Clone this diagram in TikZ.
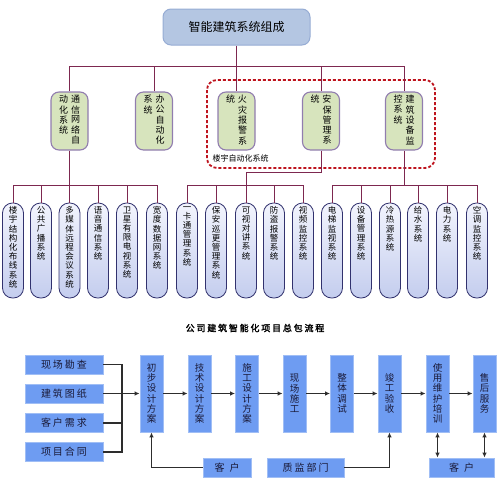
\documentclass[tikz,border=0pt]{standalone}
\usepackage{fontspec}
\setmainfont{Noto Sans CJK SC}
\newfontfamily\widefont[LetterSpace=20]{Noto Sans CJK SC}
\newfontfamily\titlefont[LetterSpace=20,FakeBold=2]{Noto Sans CJK SC}
\usetikzlibrary{arrows.meta}

\definecolor{linkred}{RGB}{125,40,80}
\definecolor{topfill}{RGB}{180,198,226}
\definecolor{topedge}{RGB}{150,172,212}
\definecolor{midgreen}{RGB}{215,228,189}
\definecolor{midedge}{RGB}{145,125,175}
\definecolor{pilltop}{RGB}{242,244,253}
\definecolor{pillbot}{RGB}{196,205,238}
\definecolor{pilledge}{RGB}{50,50,110}
\definecolor{flowblue}{RGB}{110,156,242}
\definecolor{flowedge}{RGB}{160,190,245}
\definecolor{flowtext}{RGB}{25,25,55}
\definecolor{dashred}{RGB}{190,20,30}
\definecolor{arrgray}{RGB}{45,45,45}

\newcommand\vcol[1]{\begin{tabular}[t]{@{}c@{}}#1\end{tabular}}
\newcommand\pilltext[1]{\parbox[c][88pt][t]{14pt}{\centering #1}}

\begin{document}
\begin{tikzpicture}[x=1pt,y=-1pt,
    link/.style={draw=linkred, line width=0.9pt},
    topbox/.style={draw=topedge, fill=topfill, line width=1pt, rounded corners=8pt,
        minimum width=147pt, minimum height=36pt, font=\fontsize{12}{14}\selectfont},
    midbox/.style={draw=midedge, fill=midgreen, line width=1.1pt, rounded corners=8pt,
        minimum width=37pt, minimum height=58pt, inner sep=0pt,
        font=\fontsize{9}{9.4}\selectfont},
    pill/.style={draw=pilledge, line width=0.8pt, top color=pilltop, bottom color=pillbot,
        rounded corners=10pt, minimum width=21pt, minimum height=95pt, inner sep=0pt,
        font=\fontsize{8.5}{9.2}\selectfont},
    inbox/.style={draw=flowedge, fill=flowblue, line width=0.8pt, inner sep=0pt,
        minimum width=78pt, minimum height=19pt, text=flowtext,
        font=\widefont\fontsize{10}{11}\selectfont},
    stage/.style={draw=flowedge, fill=flowblue, line width=0.8pt, inner sep=0pt,
        minimum width=23pt, minimum height=77pt, text=flowtext, align=center,
        font=\fontsize{9.5}{10.3}\selectfont},
    flow/.style={draw=arrgray, line width=1.1pt},
    arr/.style={flow, -{Latex[length=5pt,width=4.5pt]}},
    biarr/.style={flow, {Latex[length=5pt,width=4.5pt]}-{Latex[length=5pt,width=4.5pt]}}
]
\useasboundingbox (0,0) rectangle (501,485);

\def\subsys#1#2#3{\node[pill] (#2) at (#1,250.5) {\pilltext{#3}};}

% top level
\node[topbox] (top) at (236.5,27) {智能建筑系统组成};

\node[midbox] (comm) at (69.5,121) {\vcol{动\\化\\系\\统}\hspace{3pt}\vcol{通\\信\\网\\络\\自}};
\node[midbox] (office) at (154,121) {\vcol{系\\统}\hspace{3pt}\vcol{办\\公\\自\\动\\化}};
\node[midbox] (fire) at (236.5,121) {\vcol{统}\hspace{3pt}\vcol{火\\灾\\报\\警\\系}};
\node[midbox] (safe) at (321,121) {\vcol{统}\hspace{3pt}\vcol{安\\保\\管\\理\\系}};
\node[midbox] (equip) at (404,121) {\vcol{控\\系\\统}\hspace{3pt}\vcol{建\\筑\\设\\备\\监}};

% building automation frame
\draw[dashred, line width=1.8pt, dash pattern=on 3pt off 2pt, rounded corners=10pt]
    (207,80) rectangle (435,168);
\node[anchor=west, font=\fontsize{8}{9}\selectfont] (bas) at (209,158) {楼宇自动化系统};

% subsystems
\subsys{13}{c1}{楼\\宇\\结\\构\\化\\布\\线\\系\\统}
\subsys{41}{c2}{公\\共\\广\\播\\系\\统}
\subsys{69.5}{c3}{多\\媒\\体\\远\\程\\会\\议\\系\\统}
\subsys{98}{c4}{语\\音\\通\\信\\系\\统}
\subsys{127}{c5}{卫\\星\\有\\限\\电\\视\\系\\统}
\subsys{157}{c6}{宽\\度\\数\\据\\网\\系\\统}

\subsys{187}{s1}{一\\卡\\通\\管\\理\\系\\统}
\subsys{216}{s2}{保\\安\\巡\\更\\管\\理\\系\\统}
\subsys{246}{s3}{可\\视\\对\\讲\\系\\统}
\subsys{274}{s4}{防\\盗\\报\\警\\系\\统}
\subsys{303}{s5}{视\\频\\监\\控\\系\\统}

\subsys{332}{e1}{电\\梯\\监\\视\\系\\统}
\subsys{361}{e2}{设\\备\\管\\理\\系\\统}
\subsys{390}{e3}{冷\\热\\源\\系\\统}
\subsys{418}{e4}{给\\水\\系\\统}
\subsys{447}{e5}{电\\力\\系\\统}
\subsys{477}{e6}{空\\调\\监\\控\\系\\统}

% tree lines
\coordinate (busA) at (0,66);
\coordinate (busB) at (0,185);
\coordinate (busC) at (0,172);

\draw[link] (top.south) -- (fire.north);
\draw[link] (comm.north) |- (busA -| equip) -- (equip.north);
\draw[link] (office.north) -- (office.north |- busA);
\draw[link] (safe.north) -- (safe.north |- busA);

\draw[link] (comm.south) -- (comm.south |- c3.north);
\draw[link] (c1.north) |- (busB -| c6) -- (c6.north);
\foreach \n in {c2,c4,c5}
    \draw[link] (\n.north) -- (\n.north |- busB);

\draw[link] (safe.south) |- (busC -| s3) -- (s3.north);
\draw[link] (s1.north) |- (busB -| s5) -- (s5.north);
\foreach \n in {s2,s4}
    \draw[link] (\n.north) -- (\n.north |- busB);

\draw[link] (equip.south) -- (equip.south |- busB);
\draw[link] (e1.north) |- (busB -| e6) -- (e6.north);
\foreach \n in {e2,e3,e4,e5}
    \draw[link] (\n.north) -- (\n.north |- busB);

% contracting workflow
\node[font=\titlefont\fontsize{9}{10}\selectfont] (title) at (255,328) {公司建筑智能化项目总包流程};

\node[inbox] (l1) at (64,364.5) {现场勘查};
\node[inbox] (l2) at (64,393.5) {建筑图纸};
\node[inbox] (l3) at (64,423) {客户需求};
\node[inbox] (l4) at (64,452) {项目合同};

\node[stage] (p1) at (151.5,393.5) {初\\步\\设\\计\\方\\案};
\node[stage] (p2) at (199.5,393.5) {技\\术\\设\\计\\方\\案};
\node[stage] (p3) at (247,393.5) {施\\工\\设\\计\\方\\案};
\node[stage] (p4) at (294.5,393.5) {现\\场\\施\\工};
\node[stage] (p5) at (342,393.5) {整\\体\\调\\试};
\node[stage] (p6) at (389.5,393.5) {竣\\工\\验\\收};
\node[stage] (p7) at (437.5,393.5) {使\\用\\维\\护\\培\\训};
\node[stage] (p8) at (484.5,393.5) {售\\后\\服\\务};

\node[inbox, minimum width=48pt] (k1) at (227,467.5) {客\hspace{5pt}户};
\node[inbox, minimum width=77pt] (qc) at (305.5,467.5) {质监部门};
\node[inbox, minimum width=65pt] (k2) at (461.5,467.5) {客\hspace{5pt}户};

\coordinate (join) at (122,393.5);
\draw[flow] (l1.east) -| (join);
\draw[flow] (l4.east) -| (join);
\draw[flow] (l3.east) -- (l3.east -| join);
\draw[arr] (l2.east) -- (p1.west);

\foreach \a/\b in {p1/p2,p2/p3,p3/p4,p4/p5,p5/p6,p6/p7,p7/p8}
    \draw[arr] (\a.east) -- (\b.west);

\draw[arr] (k1.west) -| (p1.south);
\draw[arr] (qc.east) -| (p6.south);
\draw[biarr] (p7.south) -- (p7.south |- k2.north);
\draw[biarr] (p8.south) -- (p8.south |- k2.north);
\end{tikzpicture}
\end{document}
